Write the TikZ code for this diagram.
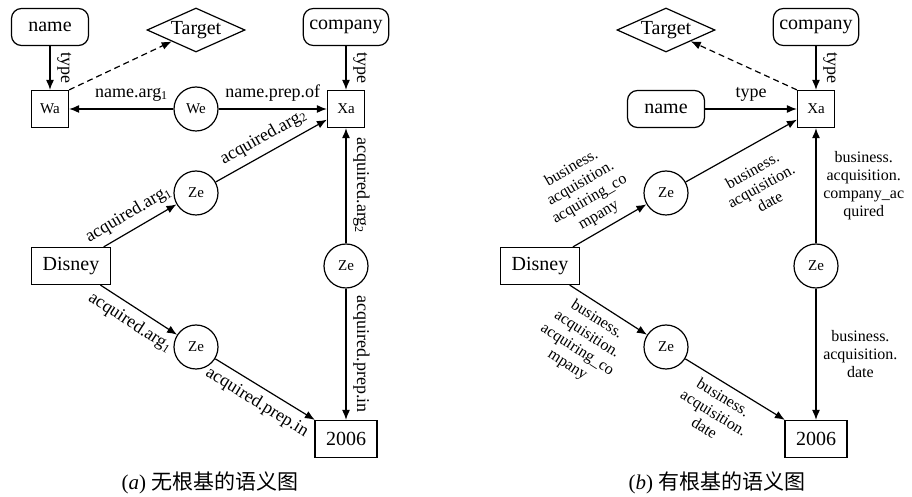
\documentclass[tikz,border=0pt]{standalone}
\usepackage{fontspec}
\setmainfont{Liberation Serif}
\newfontfamily\cjk{Noto Sans CJK SC}
\usetikzlibrary{arrows.meta,shapes.geometric}

\begin{document}
\begin{tikzpicture}[x=0.5pt,y=-0.5pt,auto,line width=0.6pt,
  >={Latex[length=5pt,width=4pt]},
  cls/.style={draw,rounded corners=5pt,minimum width=38.5pt,minimum height=18.5pt,inner xsep=3pt},
  goal/.style={draw,diamond,aspect=2.2,minimum width=49pt,minimum height=22pt,inner sep=0.5pt},
  var/.style={draw,minimum size=18.5pt,inner sep=0pt,font=\fontsize{7.5}{8}\selectfont},
  evt/.style={draw,circle,minimum size=22pt,inner sep=0pt,font=\fontsize{7.5}{8}\selectfont},
  ent/.style={draw,minimum height=18.5pt,inner xsep=5.5pt},
  lab/.style={font=\fontsize{9}{10}\selectfont},
  lab2/.style={font=\fontsize{8}{9}\selectfont,align=center}]
  \useasboundingbox (0,0) rectangle (912,497);

  % (a) ungrounded graph
  \node[cls]  (name_a)    at (50,27)   {name};
  \node[goal] (target_a)  at (196,30)  {Target};
  \node[cls]  (company_a) at (346,27)  {company};
  \node[var]  (w_a)       at (50,109)  {Wa};
  \node[evt]  (w_e)       at (196,109) {We};
  \node[var]  (x_a)       at (346,109) {Xa};
  \node[evt]  (z_1)       at (196,193) {Ze};
  \node[ent]  (disney_a)  at (71,266)  {Disney};
  \node[evt]  (z_2)       at (346,266) {Ze};
  \node[evt]  (z_3)       at (196,347) {Ze};
  \node[ent]  (year_a)    at (346,439) {2006};
  \path[->]
  (name_a) edge node[lab,sloped] {type} (w_a)
  (company_a) edge node[lab,sloped] {type} (x_a)
  (w_a.north east) edge[dash pattern=on 3pt off 2pt] (target_a)
  (w_e) edge node[lab,swap,pos=0.4] {name.arg\textsubscript{1}} (w_a)
  (w_e) edge node[lab] {name.prep.of} (x_a)
  (disney_a) edge node[lab,sloped,pos=0.45] {acquired.arg\textsubscript{1}} (z_1)
  (z_1) edge node[lab,sloped] {acquired.arg\textsubscript{2}} (x_a)
  (x_a) edge[<-] node[lab,sloped] {acquired.arg\textsubscript{2}} (z_2)
  (z_2) edge node[lab,sloped] {acquired.prep.in} (year_a)
  (disney_a) edge node[lab,sloped,swap] {acquired.arg\textsubscript{1}} (z_3)
  (z_3) edge node[lab,sloped,swap] {acquired.prep.in} (year_a);
  \node (cap_a) at (210,483) {\fontsize{10.5}{12}\selectfont(\textit{a})\ {\cjk 无根基的语义图}};

  % (b) grounded graph
  \node[goal] (target_b)  at (666,30)  {Target};
  \node[cls]  (company_b) at (816,27)  {company};
  \node[cls]  (name_b)    at (666,109) {name};
  \node[var]  (x_b)       at (816,109) {Xa};
  \node[evt]  (z_4)       at (666,193) {Ze};
  \node[ent]  (disney_b)  at (540,266) {Disney};
  \node[evt]  (z_5)       at (816,266) {Ze};
  \node[evt]  (z_6)       at (666,347) {Ze};
  \node[ent]  (year_b)    at (816,439) {2006};
  \path[->]
  (name_b) edge node[lab] {type} (x_b)
  (company_b) edge node[lab,sloped] {type} (x_b)
  (x_b.north west) edge[dash pattern=on 3pt off 2pt] (target_b)
  (disney_b) edge node[lab2,sloped,pos=0.45] {business.\\acquisition.\\acquiring\_co\\mpany} (z_4)
  (z_4) edge node[lab2,sloped,swap,inner ysep=8pt] {business.\\acquisition.\\date} (x_b)
  (x_b) edge[<-] node[lab2,right] {business.\\acquisition.\\company\_ac\\quired} (z_5)
  (z_5) edge node[lab2,right] {business.\\acquisition.\\date} (year_b)
  (disney_b) edge node[lab2,sloped,swap,pos=0.45] {business.\\acquisition.\\acquiring\_co\\mpany} (z_6)
  (z_6) edge node[lab2,sloped,swap,pos=0.45] {business.\\acquisition.\\date} (year_b);
  \node (cap_b) at (717,483) {\fontsize{10.5}{12}\selectfont(\textit{b})\ {\cjk 有根基的语义图}};
\end{tikzpicture}
\end{document}
